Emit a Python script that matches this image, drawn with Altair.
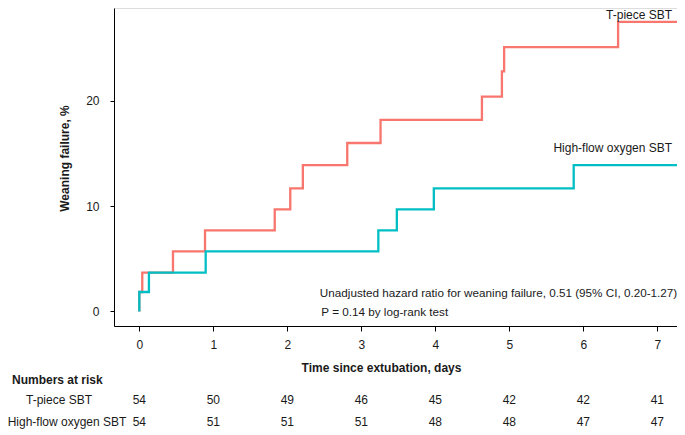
import altair as alt
import pandas as pd

# ---- data ----
X_END = 7.266
tpiece_time = [0.0, 0.0, 0.04, 0.455, 0.888, 1.83, 2.04, 2.21, 2.81, 3.26, 4.63, 4.90, 4.93, 6.47, X_END]
tpiece_fail = [0.0, 1.85, 3.7, 5.7, 7.7, 9.7, 11.7, 13.9, 16.0, 18.2, 20.4, 22.8, 25.1, 27.5, 27.5]

hfo_time = [0.0, 0.0, 0.13, 0.897, 3.23, 3.48, 3.98, 5.87, X_END]
hfo_fail = [0.0, 1.85, 3.7, 5.7, 7.7, 9.7, 11.7, 13.9, 13.9]

risk_days = [0, 1, 2, 3, 4, 5, 6, 7]
risk_tpiece = [54, 50, 49, 46, 45, 42, 42, 41]
risk_hfo = [54, 51, 51, 51, 48, 48, 47, 47]

x_ticks = [0, 1, 2, 3, 4, 5, 6, 7]
y_ticks = [0, 10, 20]

RED = "#F8766D"
TEAL = "#00BFC4"
FONT = "Liberation Sans"
TXT = "#1a1a1a"

W, H = 563, 318
xscale = alt.Scale(domain=[-0.342, X_END], nice=False, zero=False)
yscale = alt.Scale(domain=[-1.377, 28.82], nice=False, zero=False)

df_t = pd.DataFrame({"t": tpiece_time, "f": tpiece_fail})
df_h = pd.DataFrame({"t": hfo_time, "f": hfo_fail})

xaxis = alt.Axis(values=x_ticks, format="d", title="Time since extubation, days",
                 titleFontWeight="bold", titleFontSize=12, titleFont=FONT, titleColor=TXT,
                 titleX=267, titleY=41, titleAlign="center", titleBaseline="middle",
                 labelFont=FONT, labelFontSize=12, labelColor=TXT, labelPadding=8,
                 tickSize=5, tickColor="black", domainColor="black", grid=False)
yaxis = alt.Axis(values=y_ticks, format="d", title="Weaning failure, %",
                 titleFontWeight="bold", titleFontSize=12, titleFont=FONT, titleColor=TXT,
                 titleX=-50, titleY=150, titleAlign="center", titleBaseline="middle",
                 titleAngle=270,
                 labelFont=FONT, labelFontSize=12, labelColor=TXT, labelPadding=11,
                 tickSize=4, tickColor="black", domainColor="black", grid=False)

red_line = alt.Chart(df_t).mark_line(interpolate="step-after", color=RED, strokeWidth=2.3).encode(
    x=alt.X("t:Q", scale=xscale, axis=xaxis),
    y=alt.Y("f:Q", scale=yscale, axis=yaxis),
    order=alt.Order("idx:Q"),
).transform_window(idx="row_number()")

teal_line = alt.Chart(df_h).mark_line(interpolate="step-after", color=TEAL, strokeWidth=2.3).encode(
    x=alt.X("t:Q", scale=xscale),
    y=alt.Y("f:Q", scale=yscale),
    order=alt.Order("idx:Q"),
).transform_window(idx="row_number()")

labels_right = pd.DataFrame({
    "t": [7.2, 7.2],
    "f": [28.16, 15.53],
    "txt": ["T-piece SBT", "High-flow oxygen SBT"],
})
labels_left = pd.DataFrame({
    "t": [2.44, 2.46],
    "f": [1.76, -0.05],
    "txt": ["Unadjusted hazard ratio for weaning failure, 0.51 (95% CI, 0.20-1.27)",
            "P = 0.14 by log-rank test"],
})
lab_r = alt.Chart(labels_right).mark_text(align="right", baseline="middle", font=FONT,
                                          fontSize=12, color=TXT).encode(
    x=alt.X("t:Q", scale=xscale), y=alt.Y("f:Q", scale=yscale), text="txt:N")
lab_l = alt.Chart(labels_left).mark_text(align="left", baseline="middle", font=FONT,
                                         fontSize=11.7, color=TXT).encode(
    x=alt.X("t:Q", scale=xscale), y=alt.Y("f:Q", scale=yscale), text="txt:N")

risk_t = pd.DataFrame({"d": risk_days, "n": risk_tpiece})
risk_h = pd.DataFrame({"d": risk_days, "n": risk_hfo})

ROW1, ROW2, HEAD = 392, 414, 372

row_t = alt.Chart(risk_t).mark_text(align="center", baseline="middle", font=FONT,
                                    fontSize=12, color=TXT).encode(
    x=alt.X("d:Q", scale=xscale), y=alt.value(ROW1), text="n:Q")
row_h = alt.Chart(risk_h).mark_text(align="center", baseline="middle", font=FONT,
                                    fontSize=12, color=TXT).encode(
    x=alt.X("d:Q", scale=xscale), y=alt.value(ROW2), text="n:Q")

head = alt.Chart(pd.DataFrame({"txt": ["Numbers at risk"]})).mark_text(
    align="left", baseline="middle", font=FONT, fontSize=12,
    fontWeight="bold", color=TXT).encode(
    x=alt.value(-102), y=alt.value(HEAD), text="txt:N")
rl1 = alt.Chart(pd.DataFrame({"txt": ["T-piece SBT"]})).mark_text(
    align="center", baseline="middle", font=FONT, fontSize=12, color=TXT).encode(
    x=alt.value(-55), y=alt.value(ROW1), text="txt:N")
rl2 = alt.Chart(pd.DataFrame({"txt": ["High-flow oxygen SBT"]})).mark_text(
    align="center", baseline="middle", font=FONT, fontSize=12, color=TXT).encode(
    x=alt.value(-47), y=alt.value(ROW2), text="txt:N")

chart = alt.layer(red_line, teal_line, lab_r, lab_l, row_t, row_h, head, rl1, rl2).properties(
    width=W, height=H,
    autosize=alt.AutoSizeParams(type="none"),
    padding={"left": 106, "top": 0, "right": 0, "bottom": 103},
).configure_view(stroke=None).configure(background="white")

chart.save("out.html", embed_options={"renderer": "svg", "actions": False})
